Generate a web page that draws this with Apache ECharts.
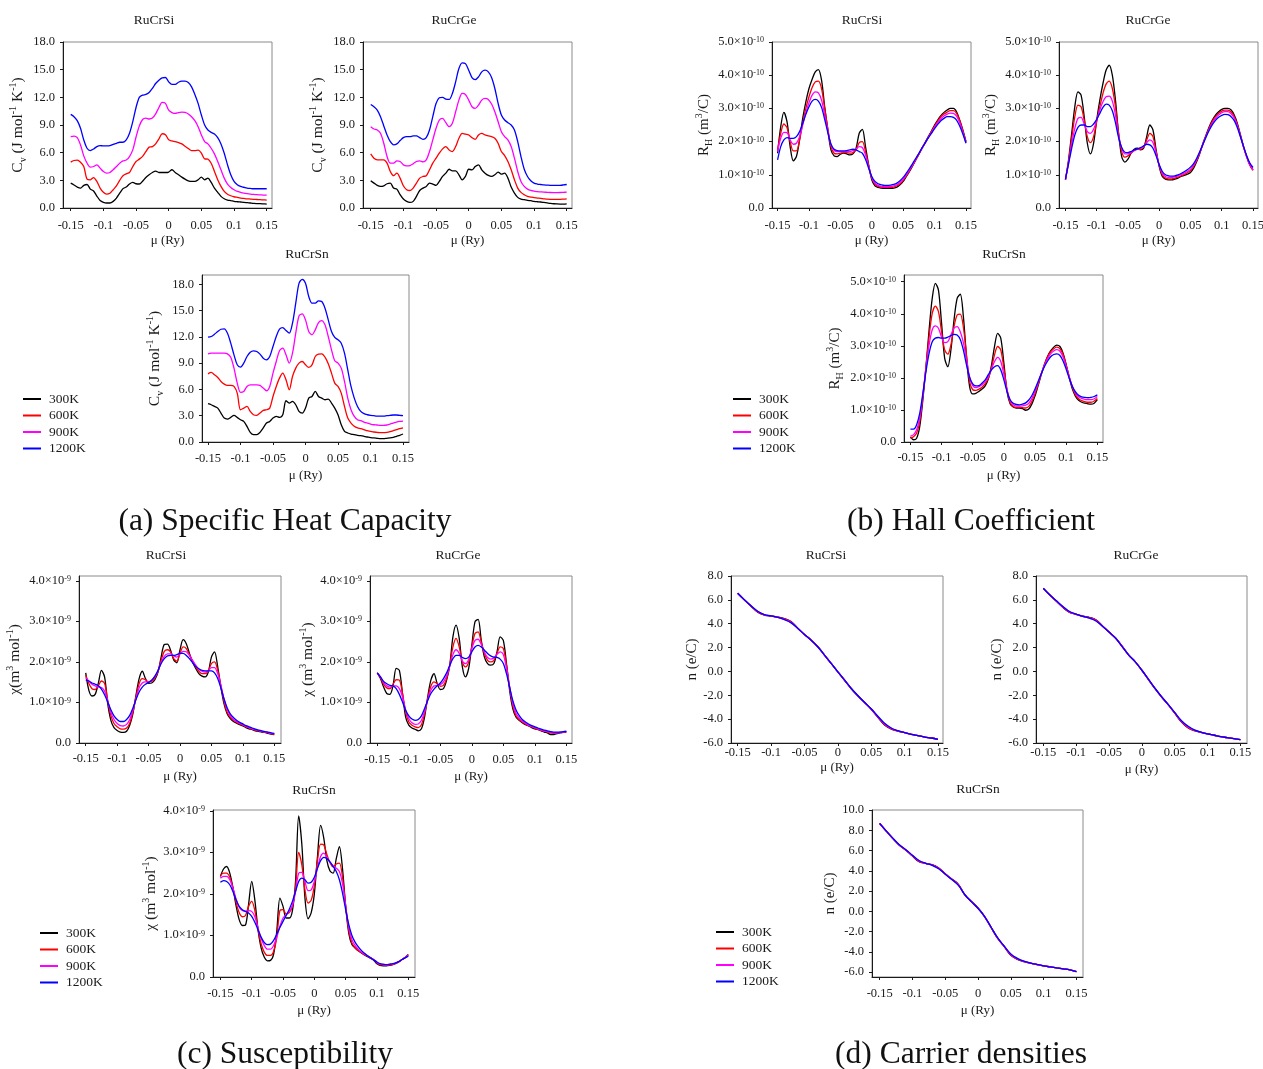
<!DOCTYPE html>
<html>
<head>
<meta charset="utf-8">
<title>RuCrZ transport properties</title>
<script src="https://cdn.jsdelivr.net/npm/echarts@6/dist/echarts.min.js"></script>
<style>
  html, body { margin: 0; padding: 0; background: #ffffff; }
  #chart { width: 1263px; height: 1069px; }
</style>
</head>
<body>
<div id="chart"></div>
<script>
// Chemical potential grids (Ry)
const MU = [-0.15,-0.145,-0.14,-0.135,-0.13,-0.125,-0.12,-0.115,-0.11,-0.105,
  -0.1,-0.095,-0.09,-0.085,-0.08,-0.075,-0.07,-0.065,-0.06,-0.055,
  -0.05,-0.045,-0.04,-0.035,-0.03,-0.025,-0.02,-0.015,-0.01,-0.005,
  0,0.005,0.01,0.015,0.02,0.025,0.03,0.035,0.04,0.045,
  0.05,0.055,0.06,0.065,0.07,0.075,0.08,0.085,0.09,0.095,
  0.1,0.105,0.11,0.115,0.12,0.125,0.13,0.135,0.14,0.145,0.15];
const MU_C = [-0.15,-0.14,-0.13,-0.12,-0.11,-0.1,-0.09,-0.08,-0.07,-0.06,
  -0.05,-0.04,-0.03,-0.02,-0.01,0,0.01,0.02,0.03,0.04,
  0.05,0.06,0.07,0.08,0.09,0.1,0.11,0.12,0.13,0.14,0.15];

const TEMPS = ['300K', '600K', '900K', '1200K'];

// Specific heat capacity Cv (J mol^-1 K^-1)
const cvSi300 = [2.70,2.50,2.27,2.16,2.45,2.55,2.05,1.85,1.30,0.82, 0.62,0.54,0.54,0.72,1.08,1.60,2.10,2.27,2.60,2.77, 2.63,2.60,2.90,3.30,3.60,3.85,4.00,3.85,3.85,3.85, 3.90,4.15,3.85,3.60,3.35,3.13,2.95,2.88,2.88,3.06, 3.35,3.06,3.24,2.77,2.16,1.70,1.26,1.00,0.86,0.80, 0.72,0.68,0.65,0.62,0.58,0.54,0.50,0.48,0.47,0.45, 0.43];
const cvSi600 = [4.97,5.15,5.20,4.97,4.50,3.13,3.06,3.30,2.88,2.16, 1.70,1.50,1.60,1.98,2.40,3.00,3.50,3.70,3.85,4.50, 5.04,5.30,5.60,6.10,6.60,6.65,6.95,7.50,8.05,7.95, 7.40,7.27,7.20,7.10,6.95,6.70,6.45,6.23,6.23,6.27, 5.95,5.33,5.30,4.86,3.96,3.06,2.34,1.80,1.50,1.33, 1.22,1.15,1.08,1.04,1.00,0.97,0.94,0.92,0.90,0.88, 0.86];
const cvSi900 = [7.74,7.80,7.63,6.84,5.65,4.86,4.43,4.50,4.68,4.32, 3.96,3.78,3.85,4.14,4.50,4.86,5.11,5.20,5.58,6.30, 7.70,8.90,9.60,9.75,9.65,9.75,10.20,10.90,11.45,11.35, 10.60,10.35,10.25,10.35,10.40,10.37,10.20,9.90,9.47,8.82, 7.92,7.20,6.95,6.48,5.87,5.04,4.14,3.24,2.59,2.23, 1.98,1.80,1.70,1.62,1.56,1.51,1.47,1.44,1.42,1.40, 1.40];
const cvSi1200 = [10.15,9.90,9.47,8.64,7.38,6.48,6.23,6.40,6.66,6.77, 6.73,6.73,6.77,6.91,7.02,7.13,7.13,7.38,8.10,9.36, 10.90,12.00,12.24,12.31,12.53,12.96,13.50,13.86,14.11,14.15, 13.68,13.40,13.40,13.64,13.75,13.75,13.60,13.14,12.30,11.34, 10.08,9.00,8.46,8.20,8.03,7.63,6.95,5.94,4.68,3.60, 2.88,2.52,2.34,2.25,2.16,2.12,2.09,2.09,2.09,2.09, 2.09];

const cvGe300 = [2.95,2.70,2.45,2.34,2.40,2.63,2.70,2.16,2.05,1.44, 0.97,0.72,0.61,0.72,1.26,1.90,2.16,2.34,2.70,2.60, 2.45,2.88,3.42,3.78,4.20,4.03,4.03,3.60,3.06,3.42, 4.20,4.14,4.50,4.68,4.14,3.78,3.53,3.42,3.60,3.90, 3.67,3.78,3.24,2.27,1.62,1.15,0.97,0.90,0.83,0.79, 0.72,0.68,0.65,0.60,0.55,0.50,0.46,0.44,0.43,0.43, 0.45];
const cvGe600 = [5.87,5.40,5.22,5.22,5.22,4.86,3.96,3.50,3.78,3.24, 2.41,1.98,1.90,2.16,2.70,3.24,3.42,3.50,4.14,4.86, 5.40,5.94,6.41,6.66,6.30,6.12,6.66,7.56,8.10,8.00, 7.92,7.63,7.45,7.92,8.10,7.92,7.81,7.74,7.56,7.02, 6.12,5.69,5.04,4.14,3.06,2.16,1.69,1.44,1.26,1.19, 1.12,1.08,1.04,1.00,0.96,0.94,0.93,0.93,0.94,0.96, 0.98];
const cvGe900 = [8.82,8.57,8.46,8.10,7.02,5.58,4.86,4.86,5.11,5.04, 4.68,4.57,4.60,4.79,5.04,5.11,5.00,5.22,6.12,7.38, 8.64,9.54,9.72,9.25,8.82,9.18,10.44,11.70,12.42,12.31, 11.70,10.98,10.80,11.16,11.70,11.88,11.77,11.27,10.44,9.36, 8.28,7.74,7.38,6.66,5.40,3.96,2.88,2.34,2.05,1.90, 1.82,1.78,1.75,1.72,1.70,1.68,1.67,1.67,1.68,1.70, 1.72];
const cvGe1200 = [11.23,10.98,10.62,9.90,8.90,7.92,7.20,6.84,6.95,7.31, 7.63,7.74,7.74,7.81,7.81,7.63,7.45,7.63,8.46,9.90, 11.34,11.95,12.00,11.80,11.77,12.42,13.68,15.12,15.73,15.66, 14.94,14.15,13.93,14.22,14.76,14.94,14.76,14.15,12.96,11.34, 10.08,9.54,9.25,9.00,8.46,7.20,5.58,4.21,3.42,2.95, 2.70,2.60,2.55,2.50,2.48,2.46,2.45,2.45,2.46,2.50, 2.55];

const cvSn300 = [4.37,4.25,4.06,3.87,3.30,2.73,2.62,2.81,3.04,2.81, 2.54,2.35,1.78,1.10,0.84,0.84,1.10,1.60,2.16,2.35, 2.73,2.92,2.81,3.11,4.71,4.44,4.63,4.25,3.49,3.30, 3.87,5.01,5.20,5.77,5.20,5.01,4.82,4.90,4.44,3.87, 3.11,1.97,1.22,1.03,0.91,0.84,0.76,0.72,0.65,0.57, 0.49,0.46,0.42,0.38,0.38,0.42,0.46,0.53,0.65,0.76, 0.91];
const cvSn600 = [7.78,7.94,7.67,7.37,6.91,6.61,6.46,6.46,6.34,5.58, 3.68,3.87,4.06,3.49,3.11,3.04,3.30,3.61,3.68,3.87, 5.20,6.34,7.29,7.86,7.10,5.96,7.48,8.43,9.00,9.19, 8.81,8.51,8.81,9.76,10.03,10.06,9.68,8.92,7.86,6.72, 6.34,5.58,4.06,2.73,2.16,1.79,1.60,1.52,1.41,1.29, 1.22,1.14,1.10,1.06,1.06,1.10,1.18,1.29,1.41,1.52, 1.60];
const cvSn900 = [10.06,10.14,10.14,10.14,10.14,10.14,10.06,9.68,8.43,6.72, 5.66,5.77,6.34,6.53,6.53,6.53,6.46,6.15,5.85,6.34, 7.86,9.19,10.41,10.71,9.95,9.00,10.14,12.42,14.39,14.62, 13.94,12.61,12.23,12.80,13.63,13.86,13.37,12.04,10.52,9.27, 9.00,8.43,6.91,5.01,3.68,2.92,2.54,2.43,2.28,2.16, 2.05,1.97,1.94,1.90,1.90,1.94,2.05,2.16,2.28,2.35, 2.39];
const cvSn1200 = [11.96,12.04,12.30,12.61,12.87,12.91,12.42,11.28,9.95,8.81, 8.55,9.00,9.76,10.25,10.41,10.33,10.03,9.57,9.38,9.76, 10.90,12.04,12.87,13.06,12.72,12.42,13.56,15.84,18.11,18.57, 18.11,16.60,15.84,15.84,16.10,16.03,15.27,13.94,12.61,11.93, 11.66,11.28,10.14,8.24,6.34,5.01,4.06,3.49,3.23,3.11, 3.04,3.00,2.96,2.96,2.96,3.00,3.04,3.08,3.08,3.04, 3.00];

// Hall coefficient R_H, in units of 1e-10 m^3/C
const rhSi300 = [1.65,2.45,2.88,2.60,1.85,1.42,1.55,2.05,2.70,3.20, 3.60,3.88,4.10,4.17,3.85,3.05,2.35,1.75,1.57,1.55, 1.62,1.65,1.63,1.60,1.63,1.80,2.25,2.37,1.85,1.30, 0.85,0.67,0.62,0.60,0.59,0.59,0.59,0.60,0.63,0.70, 0.80,0.95,1.10,1.27,1.45,1.62,1.80,1.97,2.15,2.32, 2.50,2.65,2.78,2.88,2.95,3.00,3.00,2.90,2.65,2.35, 2.00];
const rhSi600 = [1.75,2.25,2.53,2.42,2.00,1.72,1.72,2.05,2.55,3.00, 3.35,3.63,3.80,3.82,3.60,3.00,2.40,1.85,1.65,1.63, 1.65,1.67,1.67,1.65,1.67,1.75,1.97,2.00,1.70,1.28, 0.90,0.72,0.65,0.63,0.62,0.62,0.62,0.63,0.67,0.73, 0.83,0.97,1.12,1.28,1.45,1.62,1.80,1.97,2.13,2.30, 2.47,2.62,2.75,2.83,2.89,2.93,2.93,2.85,2.63,2.33, 2.00];
const rhSi900 = [1.70,2.10,2.28,2.27,2.05,1.92,1.95,2.15,2.50,2.87, 3.17,3.40,3.50,3.47,3.25,2.80,2.33,1.90,1.73,1.70, 1.70,1.70,1.70,1.70,1.73,1.78,1.85,1.82,1.60,1.25, 0.92,0.75,0.68,0.65,0.64,0.64,0.65,0.67,0.70,0.77, 0.87,1.00,1.15,1.30,1.47,1.63,1.80,1.96,2.12,2.27, 2.43,2.57,2.69,2.77,2.83,2.86,2.85,2.77,2.57,2.28, 1.97];
const rhSi1200 = [1.45,1.85,2.05,2.12,2.10,2.10,2.15,2.30,2.55,2.82, 3.05,3.22,3.27,3.22,3.03,2.67,2.27,1.93,1.77,1.73, 1.72,1.72,1.73,1.75,1.77,1.75,1.70,1.65,1.47,1.20, 0.95,0.80,0.73,0.70,0.68,0.68,0.69,0.71,0.75,0.82, 0.92,1.05,1.19,1.34,1.49,1.65,1.81,1.96,2.11,2.25, 2.39,2.52,2.63,2.70,2.75,2.75,2.73,2.65,2.47,2.23, 1.95];

const rhGe300 = [0.85,1.45,2.25,3.05,3.50,3.40,2.75,1.95,1.63,1.95, 2.65,3.25,3.75,4.15,4.30,4.00,3.25,2.25,1.55,1.38, 1.47,1.65,1.77,1.80,1.75,1.80,2.15,2.50,2.35,1.75, 1.25,0.95,0.87,0.85,0.85,0.87,0.90,0.95,0.98,1.02, 1.07,1.20,1.40,1.65,1.95,2.20,2.45,2.65,2.80,2.90, 2.97,3.00,3.00,2.95,2.80,2.55,2.20,1.85,1.55,1.30, 1.15];
const rhGe600 = [0.85,1.40,2.10,2.75,3.10,3.05,2.65,2.15,1.97,2.15, 2.60,3.05,3.45,3.73,3.82,3.60,3.05,2.25,1.70,1.53, 1.57,1.65,1.73,1.77,1.77,1.83,2.05,2.25,2.15,1.70, 1.28,1.00,0.90,0.88,0.88,0.90,0.93,0.97,1.01,1.06, 1.13,1.25,1.43,1.67,1.93,2.18,2.41,2.61,2.75,2.85, 2.92,2.95,2.95,2.89,2.75,2.51,2.17,1.83,1.53,1.28, 1.13];
const rhGe900 = [0.85,1.35,1.93,2.40,2.70,2.73,2.53,2.30,2.25,2.37, 2.65,2.95,3.20,3.35,3.37,3.22,2.80,2.17,1.80,1.63, 1.63,1.67,1.73,1.77,1.80,1.85,1.97,2.05,1.97,1.65, 1.30,1.05,0.95,0.92,0.92,0.94,0.97,1.01,1.05,1.10, 1.17,1.29,1.46,1.69,1.93,2.16,2.38,2.56,2.70,2.80, 2.87,2.90,2.90,2.84,2.71,2.48,2.16,1.83,1.54,1.30, 1.15];
const rhGe1200 = [0.87,1.33,1.80,2.20,2.43,2.50,2.50,2.45,2.45,2.53, 2.67,2.85,3.03,3.13,3.10,2.93,2.57,2.12,1.82,1.68, 1.67,1.70,1.75,1.78,1.82,1.87,1.92,1.90,1.80,1.57, 1.30,1.10,1.00,0.97,0.96,0.97,1.00,1.04,1.09,1.15, 1.23,1.34,1.50,1.70,1.92,2.14,2.34,2.51,2.64,2.73, 2.79,2.82,2.81,2.75,2.63,2.42,2.14,1.84,1.57,1.35, 1.22];

const rhSn300 = [0.16,0.07,0.12,0.49,1.32,2.35,3.50,4.48,4.95,4.74, 3.70,2.61,2.35,2.87,3.81,4.48,4.61,3.91,2.66,1.73, 1.50,1.52,1.58,1.65,1.75,1.96,2.38,2.98,3.39,3.24, 2.46,1.58,1.19,1.09,1.06,1.06,1.04,0.99,1.03,1.19, 1.44,1.76,2.10,2.41,2.67,2.84,2.96,3.02,2.98,2.77, 2.41,2.01,1.65,1.42,1.30,1.24,1.21,1.19,1.18,1.21, 1.32];
const rhSn600 = [0.12,0.16,0.28,0.64,1.42,2.35,3.29,4.01,4.24,4.07, 3.44,2.87,2.74,3.03,3.60,3.96,3.99,3.58,2.72,1.89, 1.63,1.61,1.65,1.71,1.82,1.99,2.30,2.72,2.98,2.87, 2.30,1.65,1.23,1.11,1.08,1.08,1.07,1.06,1.11,1.27, 1.51,1.80,2.12,2.41,2.65,2.81,2.91,2.96,2.91,2.73, 2.40,2.03,1.70,1.47,1.35,1.29,1.26,1.24,1.24,1.28, 1.36];
const rhSn900 = [0.18,0.23,0.38,0.75,1.47,2.30,3.03,3.50,3.62,3.55, 3.27,3.10,3.13,3.34,3.55,3.60,3.44,3.10,2.56,2.02, 1.76,1.70,1.73,1.79,1.89,2.04,2.27,2.51,2.64,2.51, 2.10,1.63,1.30,1.16,1.12,1.12,1.13,1.15,1.21,1.36, 1.58,1.85,2.13,2.39,2.59,2.75,2.84,2.88,2.83,2.65, 2.35,2.02,1.73,1.52,1.41,1.36,1.33,1.32,1.32,1.35, 1.42];
const rhSn1200 = [0.40,0.40,0.54,0.90,1.52,2.20,2.77,3.13,3.24,3.26, 3.24,3.24,3.27,3.32,3.36,3.34,3.20,2.87,2.41,2.02, 1.81,1.75,1.76,1.84,1.94,2.10,2.25,2.35,2.38,2.25, 1.94,1.58,1.32,1.21,1.17,1.16,1.18,1.22,1.31,1.45, 1.65,1.89,2.13,2.35,2.52,2.66,2.73,2.75,2.70,2.53, 2.27,1.98,1.73,1.56,1.46,1.41,1.39,1.38,1.39,1.42, 1.47];

// Magnetic susceptibility chi, in units of 1e-9 m^3 mol^-1
const chiSi300 = [1.73,1.30,1.16,1.20,1.47,1.79,1.63,0.97,0.56,0.38, 0.31,0.27,0.26,0.29,0.44,0.72,1.18,1.59,1.77,1.59, 1.47,1.48,1.56,1.75,2.12,2.43,2.44,2.29,2.05,1.98, 2.30,2.55,2.45,2.21,2.00,1.84,1.71,1.65,1.63,1.75, 2.12,2.25,1.88,1.38,0.97,0.72,0.60,0.53,0.49,0.45, 0.42,0.38,0.35,0.33,0.30,0.29,0.27,0.26,0.24,0.22, 0.21];
const chiSi600 = [1.67,1.47,1.34,1.32,1.41,1.53,1.47,1.05,0.68,0.48, 0.40,0.35,0.34,0.37,0.49,0.76,1.14,1.47,1.59,1.56, 1.51,1.52,1.60,1.77,2.04,2.26,2.30,2.25,2.08,2.02, 2.21,2.37,2.33,2.18,2.02,1.88,1.77,1.71,1.71,1.78, 1.96,2.00,1.79,1.42,1.03,0.76,0.64,0.56,0.51,0.47, 0.44,0.40,0.37,0.34,0.32,0.30,0.28,0.26,0.25,0.23, 0.22];
const chiSi900 = [1.61,1.53,1.45,1.41,1.38,1.37,1.28,1.04,0.76,0.58, 0.48,0.43,0.42,0.46,0.58,0.81,1.09,1.36,1.48,1.51, 1.51,1.55,1.63,1.78,1.98,2.14,2.20,2.20,2.15,2.12, 2.20,2.26,2.25,2.16,2.04,1.92,1.82,1.77,1.75,1.78, 1.86,1.86,1.71,1.42,1.09,0.83,0.68,0.58,0.53,0.49, 0.45,0.41,0.38,0.35,0.33,0.31,0.29,0.27,0.26,0.24, 0.23];
const chiSi1200 = [1.56,1.53,1.48,1.45,1.41,1.33,1.19,1.01,0.82,0.67, 0.58,0.53,0.53,0.58,0.68,0.86,1.07,1.26,1.38,1.45, 1.49,1.55,1.65,1.79,1.96,2.08,2.15,2.16,2.16,2.18, 2.21,2.21,2.16,2.08,1.98,1.89,1.83,1.79,1.78,1.78, 1.78,1.73,1.59,1.36,1.09,0.87,0.72,0.63,0.56,0.51, 0.47,0.43,0.40,0.37,0.34,0.32,0.30,0.28,0.27,0.25, 0.24];

const chiGe300 = [1.73,1.59,1.38,1.22,1.20,1.42,1.84,1.79,1.22,0.64, 0.44,0.37,0.34,0.30,0.35,0.64,1.14,1.55,1.71,1.47, 1.32,1.34,1.55,1.92,2.62,2.91,2.58,1.88,1.63,1.84, 2.41,2.99,3.05,2.53,2.12,1.96,1.92,1.96,2.25,2.62, 2.53,1.96,1.30,0.85,0.64,0.56,0.50,0.45,0.42,0.38, 0.35,0.33,0.30,0.27,0.25,0.21,0.21,0.23,0.25,0.26, 0.27];
const chiGe600 = [1.73,1.61,1.45,1.36,1.34,1.45,1.56,1.55,1.22,0.77, 0.52,0.44,0.40,0.38,0.45,0.72,1.09,1.40,1.51,1.47, 1.40,1.42,1.59,1.92,2.37,2.58,2.37,2.00,1.88,2.00, 2.37,2.70,2.74,2.49,2.21,2.04,2.00,2.04,2.21,2.37, 2.33,1.92,1.38,0.93,0.68,0.58,0.52,0.47,0.43,0.40, 0.36,0.34,0.31,0.29,0.27,0.25,0.24,0.25,0.26,0.27, 0.28];
const chiGe900 = [1.73,1.63,1.49,1.41,1.38,1.41,1.41,1.34,1.14,0.81, 0.60,0.50,0.46,0.47,0.56,0.78,1.07,1.30,1.41,1.42, 1.44,1.51,1.65,1.89,2.18,2.30,2.21,2.02,1.96,2.06, 2.33,2.53,2.56,2.43,2.24,2.11,2.07,2.10,2.19,2.25, 2.18,1.84,1.38,0.99,0.74,0.62,0.54,0.49,0.44,0.41, 0.38,0.35,0.32,0.30,0.28,0.26,0.25,0.25,0.26,0.27, 0.28];
const chiGe1200 = [1.73,1.63,1.52,1.46,1.42,1.41,1.34,1.20,1.01,0.81, 0.67,0.59,0.56,0.58,0.67,0.85,1.05,1.22,1.33,1.41, 1.48,1.59,1.73,1.92,2.08,2.16,2.16,2.11,2.08,2.12, 2.25,2.37,2.41,2.37,2.29,2.21,2.15,2.12,2.11,2.07, 1.96,1.71,1.38,1.05,0.82,0.68,0.58,0.52,0.47,0.43, 0.40,0.37,0.34,0.32,0.30,0.28,0.27,0.27,0.27,0.28, 0.29];

const chiSn300 = [2.42,2.60,2.66,2.50,2.15,1.72,1.38,1.24,1.25,1.75, 2.30,1.85,1.15,0.70,0.48,0.39,0.40,0.55,1.10,1.90, 1.70,1.42,1.42,1.60,2.30,3.88,3.20,1.90,1.40,1.55, 2.00,2.90,3.65,3.35,2.80,2.55,2.50,2.85,3.14,2.60, 1.70,1.05,0.78,0.70,0.63,0.58,0.53,0.49,0.45,0.40, 0.32,0.28,0.27,0.27,0.28,0.30,0.33,0.37,0.42,0.47, 0.54];
const chiSn600 = [2.44,2.50,2.50,2.40,2.15,1.80,1.55,1.45,1.48,1.70, 1.82,1.60,1.15,0.80,0.60,0.52,0.52,0.62,0.95,1.60, 1.62,1.52,1.55,1.70,2.15,3.00,2.70,2.10,1.78,1.85, 2.20,2.80,3.20,3.18,2.95,2.75,2.65,2.72,2.74,2.40, 1.72,1.12,0.82,0.71,0.64,0.59,0.54,0.50,0.46,0.41, 0.34,0.30,0.29,0.28,0.29,0.30,0.33,0.37,0.42,0.47, 0.53];
const chiSn900 = [2.38,2.42,2.42,2.34,2.14,1.88,1.68,1.60,1.58,1.60, 1.58,1.45,1.18,0.93,0.76,0.67,0.67,0.76,0.96,1.22, 1.42,1.50,1.58,1.72,2.05,2.50,2.52,2.30,2.08,2.10, 2.30,2.62,2.90,2.98,2.88,2.76,2.68,2.62,2.54,2.25, 1.70,1.20,0.90,0.76,0.67,0.60,0.55,0.51,0.46,0.42, 0.35,0.31,0.30,0.29,0.30,0.31,0.34,0.37,0.42,0.47, 0.52];
const chiSn1200 = [2.28,2.32,2.30,2.22,2.06,1.86,1.70,1.62,1.58,1.54, 1.46,1.32,1.14,0.96,0.83,0.78,0.79,0.88,1.03,1.19, 1.34,1.48,1.63,1.82,2.06,2.30,2.38,2.34,2.26,2.28, 2.40,2.62,2.80,2.88,2.85,2.77,2.66,2.54,2.34,2.02, 1.62,1.26,1.00,0.84,0.73,0.64,0.57,0.51,0.46,0.41, 0.36,0.32,0.31,0.30,0.31,0.32,0.34,0.37,0.42,0.46, 0.50];

// Carrier density n (e/C), sampled every 0.01 Ry
const nSi300 = [6.55,6.00,5.47,4.97,4.73,4.65,4.56,4.42,4.18,3.63, 3.10,2.64,2.09,1.37,0.67,-0.03,-0.74,-1.45,-2.06,-2.61, -3.18,-3.85,-4.50,-4.83,-5.00,-5.13,-5.27,-5.38,-5.50,-5.58, -5.69];
const nSi600 = [6.55,6.00,5.48,4.99,4.74,4.65,4.55,4.40,4.15,3.62, 3.10,2.63,2.08,1.37,0.67,-0.03,-0.73,-1.44,-2.05,-2.60, -3.17,-3.83,-4.46,-4.81,-5.00,-5.13,-5.27,-5.38,-5.50,-5.58, -5.69];
const nSi900 = [6.55,6.00,5.49,5.02,4.75,4.65,4.54,4.37,4.11,3.61, 3.10,2.62,2.06,1.37,0.67,-0.03,-0.72,-1.42,-2.03,-2.60, -3.15,-3.80,-4.41,-4.78,-4.98,-5.13,-5.27,-5.38,-5.50,-5.58, -5.69];
const nSi1200 = [6.56,6.01,5.51,5.05,4.77,4.65,4.53,4.34,4.07,3.60, 3.10,2.61,2.05,1.37,0.67,-0.03,-0.71,-1.41,-2.02,-2.59, -3.13,-3.76,-4.35,-4.74,-4.97,-5.13,-5.27,-5.38,-5.50,-5.58, -5.69];

const nGe300 = [6.96,6.40,5.88,5.36,4.95,4.79,4.64,4.54,4.33,3.82, 3.30,2.81,2.12,1.38,0.80,0.10,-0.68,-1.45,-2.15,-2.79, -3.50,-4.23,-4.72,-4.97,-5.11,-5.24,-5.35,-5.47,-5.55,-5.64, -5.72];
const nGe600 = [6.96,6.40,5.89,5.38,4.96,4.79,4.63,4.52,4.31,3.81, 3.30,2.80,2.11,1.37,0.80,0.10,-0.67,-1.44,-2.14,-2.78, -3.48,-4.20,-4.69,-4.96,-5.10,-5.24,-5.35,-5.47,-5.55,-5.64, -5.72];
const nGe900 = [6.96,6.40,5.90,5.41,4.99,4.79,4.62,4.49,4.27,3.80, 3.30,2.79,2.09,1.37,0.80,0.10,-0.66,-1.42,-2.12,-2.77, -3.46,-4.15,-4.63,-4.93,-5.10,-5.24,-5.35,-5.47,-5.55,-5.64, -5.72];
const nGe1200 = [6.97,6.41,5.92,5.44,5.02,4.80,4.61,4.46,4.23,3.79, 3.30,2.78,2.08,1.37,0.80,0.10,-0.65,-1.41,-2.11,-2.76, -3.44,-4.11,-4.58,-4.90,-5.09,-5.24,-5.35,-5.47,-5.55,-5.64, -5.72];

const nSn300 = [8.67,7.92,7.19,6.52,6.03,5.45,4.90,4.73,4.60,4.28, 3.70,3.18,2.66,1.60,0.97,0.34,-0.53,-1.62,-2.68,-3.50, -4.35,-4.75,-4.98,-5.13,-5.26,-5.39,-5.49,-5.59,-5.68,-5.78, -5.95];
const nSn600 = [8.67,7.92,7.20,6.53,6.04,5.47,4.93,4.73,4.58,4.26, 3.69,3.16,2.63,1.61,0.96,0.32,-0.53,-1.61,-2.67,-3.49, -4.32,-4.72,-4.97,-5.12,-5.26,-5.39,-5.49,-5.59,-5.68,-5.78, -5.95];
const nSn900 = [8.67,7.92,7.21,6.55,6.06,5.50,4.98,4.73,4.56,4.23, 3.67,3.14,2.58,1.62,0.94,0.29,-0.53,-1.60,-2.65,-3.47, -4.27,-4.69,-4.95,-5.12,-5.26,-5.39,-5.49,-5.59,-5.68,-5.78, -5.95];
const nSn1200 = [8.68,7.93,7.22,6.57,6.08,5.53,5.02,4.74,4.54,4.20, 3.66,3.13,2.55,1.63,0.93,0.27,-0.52,-1.58,-2.63,-3.45, -4.22,-4.65,-4.93,-5.11,-5.25,-5.39,-5.49,-5.59,-5.68,-5.78, -5.95];

// Tick positions and labels
const X_TICKS = [-0.15, -0.1, -0.05, 0, 0.05, 0.1, 0.15];
const X_TICK_LABELS = ['-0.15', '-0.1', '-0.05', '0', '0.05', '0.1', '0.15'];
const CV_TICKS = [0, 3, 6, 9, 12, 15, 18];
const RH_TICKS = [0, 1, 2, 3, 4, 5];
const CHI_TICKS = [0, 1, 2, 3, 4];
const N_TICKS = [-6, -4, -2, 0, 2, 4, 6, 8];
const N_TICKS_SN = [-6, -4, -2, 0, 2, 4, 6, 8, 10];

const COLORS = ['#000000', '#ff0000', '#ff00ff', '#0000ff'];
const FONT = '"Liberation Serif", "Times New Roman", serif';
const INK = '#1a1a1a';

const NAME_CV = '{b|C}{sb|v}{b| (J mol}{sp|-1}{b| K}{sp|-1}{b|)}';
const NAME_RH = '{b|R}{sb|H}{b| (m}{sp|3}{b|/C)}';
const NAME_CHI_TIGHT = '{b|\u03c7(m}{sp|3}{b| mol}{sp|-1}{b|)}';
const NAME_CHI = '{b|\u03c7 (m}{sp|3}{b| mol}{sp|-1}{b|)}';
const NAME_N = '{b|n (e/C)}';

const PANELS = [
  { title: 'RuCrSi', tx: 154, ty: 20, rect: [63, 42, 209, 166], xr: [-0.1618, 0.1581], yr: [0, 18],
    ticks: CV_TICKS, fmt: 'f1', scale: 1, yName: NAME_CV, nameSize: 15.5, yGap: 35, xMargin: 11, xGap: 26, mu: MU,
    lines: [cvSi300, cvSi600, cvSi900, cvSi1200] },
  { title: 'RuCrGe', tx: 454, ty: 20, rect: [363, 42, 209, 166], xr: [-0.1618, 0.1581], yr: [0, 18],
    ticks: CV_TICKS, fmt: 'f1', scale: 1, yName: NAME_CV, nameSize: 15.5, yGap: 35, xMargin: 11, xGap: 26, mu: MU,
    lines: [cvGe300, cvGe600, cvGe900, cvGe1200] },
  { title: 'RuCrSn', tx: 307, ty: 254, rect: [202, 275, 207, 167], xr: [-0.1592, 0.1592], yr: [0, 19.06],
    ticks: CV_TICKS, fmt: 'f1', scale: 1, yName: NAME_CV, nameSize: 15.5, yGap: 37, xMargin: 10, xGap: 27, mu: MU,
    lines: [cvSn300, cvSn600, cvSn900, cvSn1200] },

  { title: 'RuCrSi', tx: 862, ty: 20, rect: [772, 42, 199, 166], xr: [-0.1589, 0.158], yr: [0, 5],
    ticks: RH_TICKS, fmt: 'e10', scale: 1e-10, yName: NAME_RH, nameSize: 15, yGap: 57, xMargin: 11, xGap: 26, mu: MU,
    lines: [rhSi300, rhSi600, rhSi900, rhSi1200] },
  { title: 'RuCrGe', tx: 1148, ty: 20, rect: [1059, 42, 199, 166], xr: [-0.1603, 0.158], yr: [0, 5],
    ticks: RH_TICKS, fmt: 'e10', scale: 1e-10, yName: NAME_RH, nameSize: 15, yGap: 57, xMargin: 11, xGap: 26, mu: MU,
    lines: [rhGe300, rhGe600, rhGe900, rhGe1200] },
  { title: 'RuCrSn', tx: 1004, ty: 254, rect: [904, 275, 199, 167], xr: [-0.1603, 0.1591], yr: [0, 5.21],
    ticks: RH_TICKS, fmt: 'e10', scale: 1e-10, yName: NAME_RH, nameSize: 15, yGap: 59, xMargin: 9, xGap: 27, mu: MU,
    lines: [rhSn300, rhSn600, rhSn900, rhSn1200] },

  { title: 'RuCrSi', tx: 166, ty: 555, rect: [79, 576, 202, 167], xr: [-0.1607, 0.1607], yr: [0, 4.12],
    ticks: CHI_TICKS, fmt: 'e9', scale: 1e-9, yName: NAME_CHI_TIGHT, nameSize: 15.5, yGap: 54, xMargin: 8.5, xGap: 27, mu: MU,
    lines: [chiSi300, chiSi600, chiSi900, chiSi1200] },
  { title: 'RuCrGe', tx: 458, ty: 555, rect: [370, 576, 202, 167], xr: [-0.1616, 0.159], yr: [0, 4.12],
    ticks: CHI_TICKS, fmt: 'e9', scale: 1e-9, yName: NAME_CHI, nameSize: 15.5, yGap: 50, xMargin: 10, xGap: 27, mu: MU,
    lines: [chiGe300, chiGe600, chiGe900, chiGe1200] },
  { title: 'RuCrSn', tx: 314, ty: 790, rect: [213, 810, 202, 167], xr: [-0.1618, 0.1607], yr: [0, 4.02],
    ticks: CHI_TICKS, fmt: 'e9', scale: 1e-9, yName: NAME_CHI, nameSize: 15.5, yGap: 48, xMargin: 10, xGap: 27, mu: MU,
    lines: [chiSn300, chiSn600, chiSn900, chiSn1200] },

  { title: 'RuCrSi', tx: 826, ty: 555, rect: [731, 576, 212, 167], xr: [-0.16, 0.1575], yr: [-6, 8],
    ticks: N_TICKS, fmt: 'f1', scale: 1, yName: NAME_N, nameSize: 15, yGap: 29, xMargin: 3, xGap: 18, mu: MU_C,
    lines: [nSi300, nSi600, nSi900, nSi1200] },
  { title: 'RuCrGe', tx: 1136, ty: 555, rect: [1036, 576, 211, 167], xr: [-0.1611, 0.16], yr: [-6, 8],
    ticks: N_TICKS, fmt: 'f1', scale: 1, yName: NAME_N, nameSize: 15, yGap: 29, xMargin: 3, xGap: 20, mu: MU_C,
    lines: [nGe300, nGe600, nGe900, nGe1200] },
  { title: 'RuCrSn', tx: 978, ty: 789, rect: [872, 810, 211, 167], xr: [-0.1617, 0.16], yr: [-6.49, 10],
    ticks: N_TICKS_SN, fmt: 'f1', scale: 1, yName: NAME_N, nameSize: 15, yGap: 32, xMargin: 10, xGap: 27, mu: MU_C,
    lines: [nSn300, nSn600, nSn900, nSn1200] }
];

const LEGENDS = [
  { left: 23, top: 392 },
  { left: 733, top: 392 },
  { left: 40, top: 926 },
  { left: 716, top: 925 }
];

const CAPTIONS = [
  { text: '(a) Specific Heat Capacity', x: 285, y: 522 },
  { text: '(b) Hall Coefficient', x: 971, y: 522 },
  { text: '(c) Susceptibility', x: 285, y: 1055 },
  { text: '(d) Carrier densities', x: 961, y: 1055 }
];

function tickLabel(fmt, scale) {
  return function (v) {
    const u = v / scale;
    if (fmt === 'f1' || Math.abs(u) < 1e-9) return u.toFixed(1);
    const exp = fmt === 'e10' ? '-10' : '-9';
    return '{m|' + u.toFixed(1) + '\u00d710}{e|' + exp + '}';
  };
}

const TICK_RICH = {
  m: { fontFamily: FONT, fontSize: 12.5, color: INK, lineHeight: 12, verticalAlign: 'bottom' },
  e: { fontFamily: FONT, fontSize: 8, color: INK, lineHeight: 8, verticalAlign: 'top' }
};

function nameRich(size) {
  const small = Math.round(size * 0.66 * 2) / 2;
  return {
    b: { fontFamily: FONT, fontSize: size, color: INK, lineHeight: 20, verticalAlign: 'middle' },
    sp: { fontFamily: FONT, fontSize: small, color: INK, lineHeight: 10, verticalAlign: 'top' },
    sb: { fontFamily: FONT, fontSize: small, color: INK, lineHeight: 10, verticalAlign: 'bottom' }
  };
}

const grids = [], xAxes = [], yAxes = [], series = [], graphics = [];

PANELS.forEach(function (p, i) {
  grids.push({
    left: p.rect[0], top: p.rect[1], width: p.rect[2], height: p.rect[3],
    show: true, borderColor: '#8a8a8a', borderWidth: 1, backgroundColor: 'transparent',
    outerBoundsMode: 'none', containLabel: false
  });
  xAxes.push({
    gridIndex: i, type: 'value', min: p.xr[0], max: p.xr[1],
    axisLine: { show: true, onZero: false, lineStyle: { color: INK, width: 1 } },
    axisTick: { show: true, customValues: X_TICKS, length: 3, lineStyle: { color: INK } },
    axisLabel: {
      customValues: X_TICKS, margin: p.xMargin, fontFamily: FONT, fontSize: 12.5, color: INK, lineHeight: 14,
      formatter: function (v) {
        const k = X_TICKS.findIndex(function (t) { return Math.abs(t - v) < 1e-9; });
        return k >= 0 ? X_TICK_LABELS[k] : '';
      }
    },
    splitLine: { show: false },
    name: '\u03bc (Ry)', nameLocation: 'middle', nameGap: p.xGap,
    nameTextStyle: { fontFamily: FONT, fontSize: 13, color: INK, lineHeight: 14 }
  });
  const yTicks = p.ticks.map(function (t) { return t * p.scale; });
  yAxes.push({
    gridIndex: i, type: 'value', min: p.yr[0] * p.scale, max: p.yr[1] * p.scale,
    axisLine: { show: true, onZero: false, lineStyle: { color: INK, width: 1 } },
    axisTick: { show: true, customValues: yTicks, length: 3, lineStyle: { color: INK } },
    axisLabel: {
      customValues: yTicks, margin: 8, fontFamily: FONT, fontSize: 12.5, color: INK,
      formatter: tickLabel(p.fmt, p.scale), rich: TICK_RICH
    },
    splitLine: { show: false },
    name: p.yName, nameLocation: 'middle', nameRotate: 90, nameGap: p.yGap,
    nameTextStyle: { rich: nameRich(p.nameSize) }
  });
  p.lines.forEach(function (arr, j) {
    series.push({
      type: 'line', name: TEMPS[j], xAxisIndex: i, yAxisIndex: i,
      data: p.mu.map(function (x, k) { return [x, arr[k] * p.scale]; }),
      showSymbol: false, symbol: 'none', smooth: p.mu === MU ? 0.3 : 0.4,
      lineStyle: { color: COLORS[j], width: 1.3 }, itemStyle: { color: COLORS[j] },
      emphasis: { disabled: true }, silent: true, z: 2 + j
    });
  });
  graphics.push({
    type: 'text', x: p.tx, y: p.ty, silent: true,
    style: { text: p.title, font: '13.5px ' + FONT, fill: INK, textAlign: 'center', textVerticalAlign: 'middle' }
  });
});

CAPTIONS.forEach(function (c) {
  graphics.push({
    type: 'text', x: c.x, y: c.y, silent: true,
    style: { text: c.text, font: '31.5px ' + FONT, fill: '#111111', textAlign: 'center', textVerticalAlign: 'middle' }
  });
});

const legends = LEGENDS.map(function (l) {
  return {
    left: l.left, top: l.top, orient: 'vertical', data: TEMPS, selectedMode: false,
    icon: 'rect', itemWidth: 18, itemHeight: 2, itemGap: 2.5, padding: 0,
    textStyle: { fontFamily: FONT, fontSize: 13.5, color: INK, lineHeight: 14, padding: [0, 0, 0, 3] }
  };
});

const chart = echarts.init(document.getElementById('chart'), null, { renderer: 'canvas' });
chart.setOption({
  backgroundColor: '#ffffff',
  animation: false,
  grid: grids,
  xAxis: xAxes,
  yAxis: yAxes,
  legend: legends,
  series: series,
  graphic: graphics
});
</script>
</body>
</html>
